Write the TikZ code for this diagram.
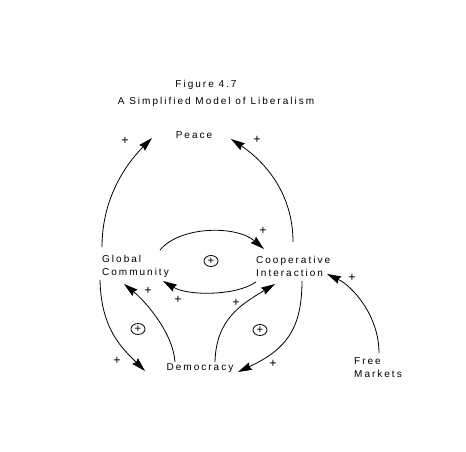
\documentclass[tikz,border=0pt]{standalone}
\usepackage{fontspec}
\newfontfamily\diagfont[LetterSpace=20]{Liberation Sans}
\usetikzlibrary{arrows.meta,shapes.geometric}
\tikzset{
  factor/.style={font=\diagfont\fontsize{10}{13}\selectfont, inner sep=0pt, align=left},
  caption/.style={font=\diagfont\fontsize{10}{13}\selectfont, inner sep=0pt},
  sign/.style={font=\diagfont\fontsize{12.5}{14}\selectfont, inner sep=0pt},
  loopsign/.style={ellipse, draw, line width=0.8pt, font=\diagfont\fontsize{11.5}{12}\selectfont,
    inner sep=0pt, minimum width=14pt, minimum height=11pt},
  link/.style={line width=0.8pt, -{Stealth[length=14pt,width=8pt,inset=1.5pt]}}
}

\begin{document}
\begin{tikzpicture}[x=1pt,y=-1pt]
  \useasboundingbox (0,0) rectangle (466,452);

  \node[caption] (fignum) at (206,85) {Figure 4.7};
  \node[caption] (figtitle) at (216,102) {A Simplified Model of Liberalism};

  \node[factor] (peace) at (194,135) {Peace};
  \node[factor, anchor=west] (gc) at (102,266) {Global\\Community};
  \node[factor, anchor=west] (ci) at (256,266) {Cooperative\\Interaction};
  \node[factor] (dem) at (200,368) {Democracy};
  \node[factor, anchor=west] (fm) at (354,368) {Free\\Markets};

  \draw[link] ([shift={(0,-19)}]gc.west) .. controls +(0,-50) and +(-25,25) .. ([shift={(-42,3)}]peace.center);
  \draw[link] ([shift={(37,-24)}]ci.west) .. controls +(0,-52) and +(30,20) .. ([shift={(37,4)}]peace.center);
  \draw[link] ([shift={(58,-16)}]gc.west) .. controls +(20,-24) and +(-28,-24) .. ([shift={(8,-17)}]ci.west);
  \draw[link] ([shift={(0,16)}]ci.west) .. controls +(-20,14) and +(25,15) .. ([shift={(61,15)}]gc.west);
  \draw[link] ([shift={(-2,14)}]gc.west) .. controls +(1,50) and +(-22,-22) .. ([shift={(-55,3)}]dem.center);
  \draw[link] ([shift={(-25,-6)}]dem.center) .. controls +(-2,-30) and +(20,16) .. ([shift={(22,18)}]gc.west);
  \draw[link] ([shift={(15,-6)}]dem.center) .. controls +(1,-42) and +(-35,21) .. ([shift={(19,18)}]ci.west);
  \draw[link] ([shift={(46,15)}]ci.west) .. controls +(0,49) and +(47,-22) .. ([shift={(38,4)}]dem.center);
  \draw[link] ([shift={(25,-15)}]fm.west) .. controls +(0,-38) and +(25,12) .. ([shift={(71,8)}]ci.west);

  % polarity of each link
  \node[sign] (s1) at (125,141) {+};
  \node[sign] (s2) at (257,140) {+};
  \node[sign] (s3) at (263,231) {+};
  \node[sign] (s4) at (148,291) {+};
  \node[sign] (s5) at (178,300) {+};
  \node[sign] (s6) at (236,303) {+};
  \node[sign] (s7) at (117,361) {+};
  \node[sign] (s8) at (273,364) {+};
  \node[sign] (s9) at (352,278) {+};

  % loop polarity
  \node[loopsign] (loopa) at (211,261) {+};
  \node[loopsign] (loopb) at (138,329) {+};
  \node[loopsign] (loopc) at (260,330) {+};
\end{tikzpicture}
\end{document}
